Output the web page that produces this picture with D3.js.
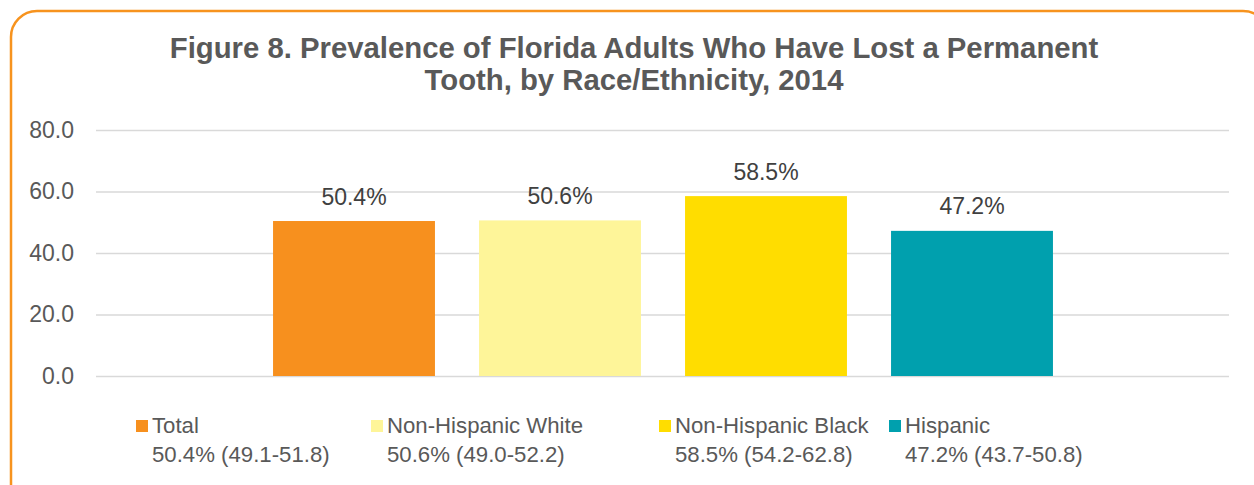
<!DOCTYPE html>
<html lang="en">
	<head>
		<meta charset="utf-8">
		<title>Figure 8 tooth loss</title>
		<script src="https://d3js.org/d3.v7.min.js"></script>
		<style type="text/css">
			body { margin: 0; background: #fff; }
			text { font-family: "Liberation Sans", Arial, sans-serif; }
		</style>
	</head>
	<body>
		<script type="text/javascript">
			// ---------------- data ----------------
			var categories = ["Total", "Non-Hispanic White", "Non-Hispanic Black", "Hispanic"];
			var values = [50.4, 50.6, 58.5, 47.2];
			var ciLabels = ["50.4% (49.1-51.8)", "50.6% (49.0-52.2)", "58.5% (54.2-62.8)", "47.2% (43.7-50.8)"];
			var yTicks = [0, 20, 40, 60, 80];
			var titleLines = ["Figure 8. Prevalence of Florida Adults Who Have Lost a Permanent",
			                  "Tooth, by Race/Ethnicity, 2014"];
			var colors = ["#F7901E", "#FEF599", "#FFDD00", "#00A0AE"];

			// ---------------- setup ----------------
			var w = 1254;
			var h = 485;
			var plotLeft = 96, plotRight = 1229, plotTop = 130, plotBottom = 376;
			var legendX = [136, 371, 659, 889];

			var svg = d3.select("body")
						.append("svg")
						.attr("width", w)
						.attr("height", h);

			// rounded frame
			svg.append("rect")
				.attr("x", 11)
				.attr("y", 11)
				.attr("width", 1258)
				.attr("height", 520)
				.attr("rx", 26)
				.attr("fill", "#fff")
				.attr("stroke", "#F7931E")
				.attr("stroke-width", 2.5);

			// title
			svg.append("g").selectAll("text")
				.data(titleLines)
				.enter()
				.append("text")
				.attr("x", 634)
				.attr("y", (d, i) => 57.5 + i * 32.5)
				.attr("text-anchor", "middle")
				.attr("font-size", "29.3px")
				.attr("font-weight", "bold")
				.attr("fill", "#595959")
				.text(d => d);

			var yScale = d3.scaleLinear()
						.domain([0, 80])
						.range([plotBottom, plotTop]);

			var xScale = d3.scaleBand()
						.domain(categories)
						.range([251, 1075])
						.paddingInner(0.214)
						.paddingOuter(0.107);

			// grid + y labels
			var yAxis = d3.axisLeft(yScale)
						.tickValues(yTicks)
						.tickSize(-(plotRight - plotLeft))
						.tickPadding(22)
						.tickFormat(d3.format(".1f"));

			var gy = svg.append("g")
				.attr("transform", "translate(" + plotLeft + ",0)")
				.call(yAxis);
			gy.select(".domain").remove();
			gy.selectAll(".tick line")
				.attr("stroke", "#D9D9D9")
				.attr("stroke-width", 1.5);
			gy.selectAll(".tick text")
				.attr("font-size", "23px")
				.attr("font-family", "Liberation Sans, Arial, sans-serif")
				.attr("fill", "#595959");

			// bars
			svg.append("g").selectAll("rect")
				.data(values)
				.enter()
				.append("rect")
				.attr("x", (d, i) => xScale(categories[i]))
				.attr("y", d => yScale(d))
				.attr("width", xScale.bandwidth())
				.attr("height", d => yScale(0) - yScale(d))
				.attr("fill", (d, i) => colors[i]);

			// value labels
			svg.append("g").selectAll("text")
				.data(values)
				.enter()
				.append("text")
				.attr("x", (d, i) => xScale(categories[i]) + xScale.bandwidth() / 2)
				.attr("y", d => yScale(d) - 16.5)
				.attr("text-anchor", "middle")
				.attr("font-size", "23px")
				.attr("fill", "#404040")
				.text(d => d.toFixed(1) + "%");

			// legend
			var lg = svg.append("g").selectAll("g")
				.data(categories)
				.enter()
				.append("g")
				.attr("transform", (d, i) => "translate(" + legendX[i] + ",0)");

			lg.append("rect")
				.attr("x", 0)
				.attr("y", 420)
				.attr("width", 12)
				.attr("height", 12)
				.attr("fill", (d, i) => colors[i]);

			lg.append("text")
				.attr("x", 16)
				.attr("y", 433)
				.attr("font-size", "22.2px")
				.attr("fill", "#595959")
				.text(d => d);

			lg.append("text")
				.attr("x", 16)
				.attr("y", 462)
				.attr("font-size", "22.2px")
				.attr("fill", "#595959")
				.text((d, i) => ciLabels[i]);
		</script>
	</body>
</html>
